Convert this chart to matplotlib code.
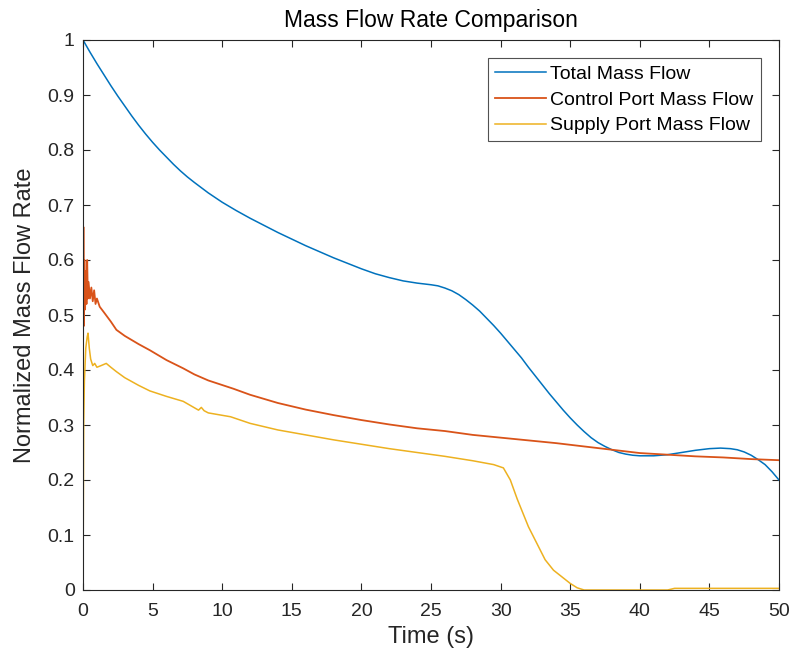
import matplotlib
matplotlib.use("Agg")
import matplotlib.pyplot as plt

plt.rcParams['font.family'] = ['Liberation Sans', 'DejaVu Sans']

# Total mass flow (blue)
t_total = [0, 0.5, 1, 1.5, 2, 2.5, 3, 3.5, 4, 4.5, 5, 5.5, 6, 6.5, 7, 7.5, 8, 9, 10, 11,
           12, 13, 14, 15, 16, 17, 18, 19, 20, 21, 22, 23, 24, 25, 25.5, 26, 26.5, 27,
           27.5, 28, 28.5, 29, 29.5, 30, 30.5, 31, 31.5, 32, 32.5, 33, 33.5, 34, 34.5,
           35, 35.5, 36, 36.5, 37, 37.5, 38, 38.5, 39, 39.5, 40, 41, 42, 43, 44, 45,
           45.8, 46.5, 47, 47.5, 48, 48.5, 49, 49.5, 50]
v_total = [1.0, 0.978, 0.957, 0.937, 0.917, 0.898, 0.88, 0.862, 0.845, 0.829, 0.814,
           0.8, 0.787, 0.774, 0.762, 0.751, 0.741, 0.722, 0.705, 0.69, 0.676, 0.663,
           0.65, 0.638, 0.626, 0.615, 0.604, 0.594, 0.584, 0.575, 0.568, 0.562, 0.558,
           0.555, 0.553, 0.549, 0.544, 0.537, 0.528, 0.518, 0.507, 0.494, 0.481, 0.467,
           0.452, 0.437, 0.422, 0.405, 0.389, 0.373, 0.357, 0.342, 0.327, 0.313, 0.3,
           0.288, 0.277, 0.268, 0.261, 0.255, 0.25, 0.247, 0.245, 0.244, 0.244, 0.246,
           0.25, 0.254, 0.257, 0.258, 0.257, 0.255, 0.251, 0.245, 0.237, 0.228, 0.215,
           0.2]

# Control port mass flow (orange)
t_control = [0, 0.03, 0.06, 0.1, 0.15, 0.2, 0.25, 0.3, 0.35, 0.4, 0.5, 0.6, 0.7, 0.8,
             0.9, 1.0, 1.2, 1.5, 2.0, 2.4, 3, 4, 4.8, 6, 7.2, 8, 9, 10.8, 12, 14, 16,
             18, 20, 22, 24, 26, 28, 30, 32, 34, 36, 38, 40, 42, 44, 46, 48, 50]
v_control = [0.39, 0.66, 0.48, 0.6, 0.51, 0.58, 0.52, 0.6, 0.53, 0.56, 0.53, 0.55, 0.525,
             0.545, 0.52, 0.53, 0.515, 0.505, 0.488, 0.473, 0.462, 0.447, 0.436, 0.418,
             0.403, 0.392, 0.381, 0.366, 0.355, 0.34, 0.328, 0.318, 0.309, 0.301, 0.294,
             0.289, 0.282, 0.277, 0.272, 0.267, 0.261, 0.255, 0.249, 0.246, 0.243, 0.241,
             0.238, 0.236]

# Supply port mass flow (yellow)
t_supply = [0, 0.05, 0.1, 0.2, 0.3, 0.36, 0.45, 0.55, 0.7, 0.84, 1.0, 1.3, 1.67, 2.0,
            2.4, 3, 4, 4.8, 6, 7.2, 8.3, 8.5, 8.7, 9, 10.6, 12, 14, 16, 18, 20, 22, 24,
            26, 28, 29.5, 30.2, 30.7, 31.2, 31.6, 32, 32.6, 33.2, 33.8, 34.5, 35, 35.5,
            36, 42, 42.5, 50]
v_supply = [0.0, 0.3, 0.38, 0.44, 0.46, 0.467, 0.44, 0.42, 0.408, 0.412, 0.405, 0.408,
            0.412, 0.405, 0.397, 0.386, 0.372, 0.362, 0.352, 0.343, 0.327, 0.332, 0.326,
            0.322, 0.315, 0.303, 0.291, 0.282, 0.273, 0.265, 0.257, 0.25, 0.243, 0.235,
            0.228, 0.222, 0.2, 0.165, 0.14, 0.115, 0.085, 0.055, 0.036, 0.022, 0.012,
            0.004, 0.0, 0.0, 0.003, 0.003]

labels = ['Total Mass Flow', 'Control Port Mass Flow', 'Supply Port Mass Flow']
colors = ['#0072BD', '#D95319', '#EDB120']

fig = plt.figure(figsize=(7.92, 6.6), dpi=100)
ax = fig.add_axes([83/792, 70/660, 696/792, 550/660])

ax.plot(t_total, v_total, color=colors[0], lw=1.1, label=labels[0])
ax.plot(t_control, v_control, color=colors[1], lw=1.3, label=labels[1])
ax.plot(t_supply, v_supply, color=colors[2], lw=1.1, label=labels[2])

ax.set_xlim(0, 50)
ax.set_ylim(0, 1)
ax.set_xticks(range(0, 51, 5))
ax.set_yticks([i / 10 for i in range(11)])
ax.set_yticklabels(['0', '0.1', '0.2', '0.3', '0.4', '0.5', '0.6', '0.7', '0.8', '0.9', '1'])
ax.tick_params(direction='in', top=True, right=True, length=5, width=0.8,
               labelsize=14, colors='#262626')
ax.tick_params(axis='x', pad=9)
ax.tick_params(axis='y', pad=6)
for s in ax.spines.values():
    s.set_color('#262626')
    s.set_linewidth(0.8)

ax.set_xlabel('Time (s)', fontsize=17, color='#262626', labelpad=5)
ax.set_ylabel('Normalized Mass Flow Rate', fontsize=17, color='#262626', labelpad=8)
ax.set_title('Mass Flow Rate Comparison', fontsize=16.5, color='#000000', pad=9)

leg = ax.legend(loc='upper right', fontsize=14, frameon=True, fancybox=False,
                edgecolor='#262626', borderaxespad=0.95, handlelength=2.6,
                labelspacing=0.42, borderpad=0.35, handletextpad=0.25)
leg.get_frame().set_linewidth(0.8)

fig.savefig('out.png', dpi=100)
